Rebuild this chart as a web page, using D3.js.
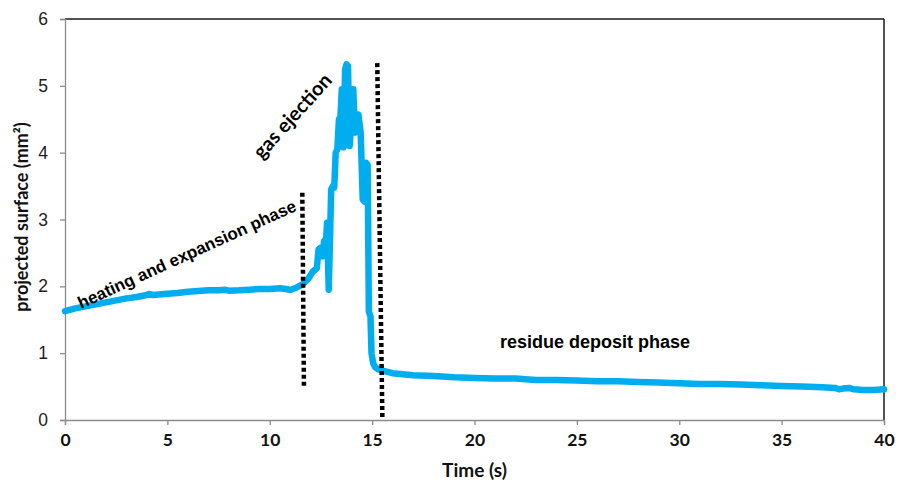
<!DOCTYPE html>
<html>
<head>
<meta charset="utf-8">
<script src="https://cdn.jsdelivr.net/npm/d3@7"></script>
<style>
  html, body { margin: 0; padding: 0; background: #fff; }
  svg { display: block; }
</style>
</head>
<body>
<svg id="chart" width="904" height="482"></svg>
<script>
// ---- data ----
const timeS = [0, 0.5, 1.0, 1.5, 2.0, 2.5, 3.0, 3.5, 4.0, 4.1, 4.3, 5.0, 5.5, 6.0, 6.5, 7.0, 7.5, 7.8, 8.0, 8.5, 9.0, 9.5, 10.0, 10.5, 10.8, 11.0, 11.3, 11.6, 11.9, 12.1, 12.3,
  12.38, 12.5, 12.6, 12.65, 12.75, 12.8, 12.88, 12.95, 13.0, 13.08, 13.15, 13.22, 13.3, 13.38, 13.45, 13.52, 13.6, 13.68, 13.75, 13.82, 13.9,
  14.0, 14.08, 14.16, 14.25, 14.33, 14.44, 14.54, 14.62, 14.7, 14.78, 14.84, 14.92, 14.97, 15.05, 15.15, 15.3, 15.5, 16.0, 17.0, 18.0, 19.0,
  20.0, 21.0, 22.0, 23.0, 24.0, 25.0, 26.0, 27.0, 28.0, 29.0, 30.0, 31.0, 32.0, 33.0, 34.0, 35.0, 36.0, 37.0, 37.6, 37.8, 38.0, 38.3, 38.5, 39.0, 39.5, 40.0];
const surfaceMm2 = [1.63, 1.67, 1.70, 1.73, 1.76, 1.79, 1.82, 1.84, 1.87, 1.885, 1.87, 1.89, 1.90, 1.92, 1.93, 1.94, 1.94, 1.95, 1.935, 1.94, 1.95, 1.96, 1.96, 1.97, 1.96, 1.945, 1.98, 2.03, 2.12, 2.22, 2.27,
  2.55, 2.58, 2.45, 2.68, 2.70, 2.95, 1.95, 2.80, 3.45, 3.50, 3.48, 4.00, 4.05, 4.50, 4.52, 4.95, 4.08, 5.25, 5.32, 5.30, 4.10,
  4.50, 4.95, 4.30, 4.55, 4.57, 4.30, 3.30, 3.27, 3.85, 3.82, 1.62, 1.55, 1.00, 0.85, 0.79, 0.76, 0.74, 0.70, 0.67, 0.66, 0.64,
  0.63, 0.62, 0.62, 0.60, 0.60, 0.59, 0.58, 0.58, 0.57, 0.56, 0.55, 0.54, 0.54, 0.53, 0.52, 0.51, 0.50, 0.49, 0.48, 0.46, 0.47, 0.48, 0.46, 0.45, 0.45, 0.46];

const xTicks = [0, 5, 10, 15, 20, 25, 30, 35, 40];
const yTicks = [0, 1, 2, 3, 4, 5, 6];

// phase dividers: [time, value] at top and bottom ends
const dividerTop = [[11.59, 3.40], [15.25, 5.34]];
const dividerBottom = [[11.67, 0.49], [15.50, 0.03]];

const phaseLabels = ["heating and expansion phase", "gas ejection", "residue deposit phase"];
const xTitle = "Time (s)";
const yTitle = "projected surface (mm²)";

// ---- layout ----
const W = 904, H = 482;
const m = { left: 65, right: 20, top: 19, bottom: 62 };
const svg = d3.select("#chart");

const x = d3.scaleLinear().domain([0, 40]).range([m.left, W - m.right]);
const y = d3.scaleLinear().domain([0, 6]).range([H - m.bottom, m.top]);

// frame (top and right in black)
svg.append("line").attr("x1", x(0)).attr("x2", x(40)).attr("y1", y(6)).attr("y2", y(6))
  .attr("stroke", "#1a1a1a").attr("stroke-width", 1.5);
svg.append("line").attr("x1", x(40)).attr("x2", x(40)).attr("y1", y(6)).attr("y2", y(0))
  .attr("stroke", "#1a1a1a").attr("stroke-width", 1.5);

// y axis
const yAxis = svg.append("g").attr("transform", `translate(${x(0)},0)`)
  .call(d3.axisLeft(y).tickValues(yTicks).tickFormat(d3.format("d")).tickSize(5).tickPadding(12));
yAxis.selectAll("path, line").attr("stroke", "#8c8c8c").attr("stroke-width", 1.3);
yAxis.selectAll("text").attr("font-family", "'Liberation Sans', Arial, sans-serif")
  .attr("font-size", 17.5).attr("fill", "#222");

// x axis
const xAxis = svg.append("g").attr("transform", `translate(0,${y(0)})`)
  .call(d3.axisBottom(x).tickValues(xTicks).tickFormat(d3.format("d")).tickSize(5).tickPadding(9));
xAxis.selectAll("path, line").attr("stroke", "#8c8c8c").attr("stroke-width", 1.3);
xAxis.selectAll("text").attr("font-family", "Lato, sans-serif").attr("font-weight", "bold")
  .attr("font-size", 17.5).attr("fill", "#111");

// axis titles
svg.append("text").attr("x", (x(0) + x(40)) / 2).attr("y", 477).attr("text-anchor", "middle")
  .attr("font-family", "Lato, sans-serif").attr("font-weight", "bold").attr("font-size", 19)
  .attr("fill", "#111").text(xTitle);
svg.append("text").attr("transform", "translate(28,217) rotate(-90)").attr("text-anchor", "middle")
  .attr("font-family", "Lato, sans-serif").attr("font-weight", "bold").attr("font-size", 18)
  .attr("fill", "#111").text(yTitle);

// data line
const pts = timeS.map((t, i) => [t, surfaceMm2[i]]);
svg.append("path").datum(pts)
  .attr("fill", "none").attr("stroke", "#00AEEF").attr("stroke-width", 6.5)
  .attr("stroke-linejoin", "round").attr("stroke-linecap", "round")
  .attr("d", d3.line().x(d => x(d[0])).y(d => y(d[1])));

// dotted dividers
dividerTop.forEach((tp, i) => {
  const bt = dividerBottom[i];
  svg.append("line")
    .attr("x1", x(tp[0])).attr("y1", y(tp[1]))
    .attr("x2", x(bt[0])).attr("y2", y(bt[1]))
    .attr("stroke", "#000").attr("stroke-width", 4.5).attr("stroke-dasharray", "4 3");
});

// phase annotations
svg.append("text").attr("transform", "translate(81,309) rotate(-24.5)")
  .attr("font-family", "'Liberation Sans', Arial, sans-serif").attr("font-weight", "bold")
  .attr("font-size", 17).attr("fill", "#000").text(phaseLabels[0]);
svg.append("text").attr("transform", "translate(262,160) rotate(-48)")
  .attr("font-family", "Lato, sans-serif").attr("font-weight", "bold")
  .attr("font-size", 20).attr("fill", "#000").text(phaseLabels[1]);
svg.append("text").attr("x", 500).attr("y", 348)
  .attr("font-family", "'Liberation Sans', Arial, sans-serif").attr("font-weight", "bold")
  .attr("font-size", 18).attr("fill", "#000").text(phaseLabels[2]);
</script>
</body>
</html>
